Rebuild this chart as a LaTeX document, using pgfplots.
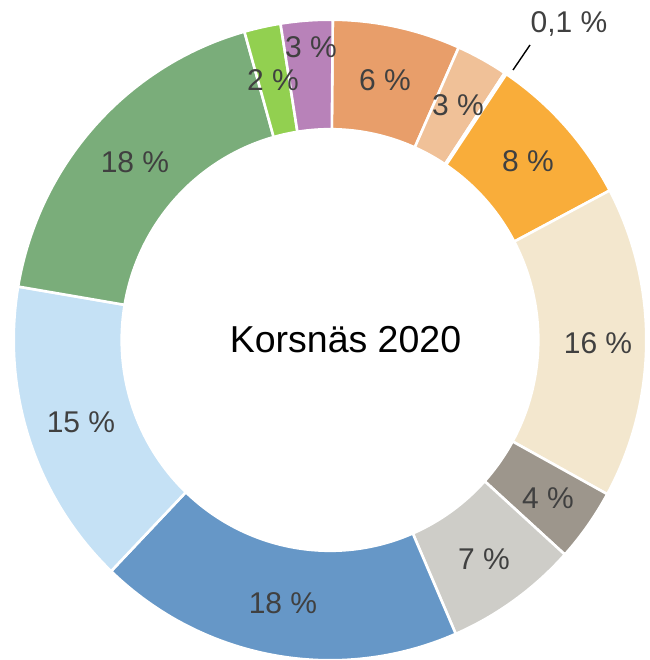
\documentclass[border=0pt]{standalone}
\usepackage{fontspec}
\setmainfont{Liberation Sans}
\usepackage{pgfplots}
\pgfplotsset{compat=1.18}
\usepackage{pgfplotstable}

\definecolor{c0}{RGB}{232,158,106}
\definecolor{c1}{RGB}{240,193,152}
\definecolor{c2}{RGB}{246,200,144}
\definecolor{c3}{RGB}{249,173,58}
\definecolor{c4}{RGB}{243,231,206}
\definecolor{c5}{RGB}{157,150,140}
\definecolor{c6}{RGB}{206,205,200}
\definecolor{c7}{RGB}{102,151,199}
\definecolor{c8}{RGB}{197,225,245}
\definecolor{c9}{RGB}{122,173,122}
\definecolor{c10}{RGB}{146,208,80}
\definecolor{c11}{RGB}{184,130,185}
\definecolor{lblgray}{RGB}{64,64,64}

% shares (percent), clockwise from the top
\pgfplotstableread{
share
6.53
2.64
0.10
7.86
15.72
3.69
6.81
18.67
15.50
17.97
1.86
2.64
}\donut

\def\startangle{0.5}
\pgfplotstablegetrowsof{\donut}
\pgfmathtruncatemacro\lastrow{\pgfplotsretval-1}
\gdef\total{0}
\foreach \i in {0,...,\lastrow}{%
  \pgfplotstablegetelem{\i}{share}\of\donut
  \pgfmathsetmacro\tmpsum{\total+\pgfplotsretval}%
  \global\let\total\tmpsum
}
\pgfmathsetmacro\degper{360/\total}
\gdef\cum{0}
\foreach \i in {0,...,\lastrow}{%
  \pgfplotstablegetelem{\i}{share}\of\donut
  \let\val\pgfplotsretval
  \pgfmathsetmacro\tsa{90-\startangle-\degper*\cum}%
  \pgfmathsetmacro\tea{\tsa-\degper*\val}%
  \expandafter\xdef\csname Ts\i\endcsname{\tsa}%
  \expandafter\xdef\csname Te\i\endcsname{\tea}%
  \pgfmathsetmacro\tmpcum{\cum+\val}%
  \global\let\cum\tmpcum
}

\begin{document}
\begin{tikzpicture}
\begin{axis}[
  scale only axis, width=649pt, height=660pt,
  xmin=0, xmax=649, ymin=0, ymax=660,
  axis line style={draw=none}, ticks=none, clip=false,
]
\pgfplotsinvokeforeach{0,...,11}{%
  \edef\slicecmd{\noexpand\fill[c#1, draw=white, line width=2.6pt]
    ([shift={(\csname Ts#1\endcsname:316.3 and 320.3)}]axis cs:330,320)
    arc[start angle=\csname Ts#1\endcsname, end angle=\csname Te#1\endcsname, x radius=316.3, y radius=320.3]
    -- ([shift={(\csname Te#1\endcsname:208.3 and 210.8)}]axis cs:330,320)
    arc[start angle=\csname Te#1\endcsname, end angle=\csname Ts#1\endcsname, x radius=208.3, y radius=210.8]
    -- cycle;}%
  \slicecmd
}
\begin{scope}[every node/.style={text=lblgray, font=\fontsize{30}{32}\selectfont, inner sep=0pt}]
\node at (axis cs:385,580) {6 \%};
\node at (axis cs:458,555) {3 \%};
\node at (axis cs:528,499) {8 \%};
\node at (axis cs:598,317) {16 \%};
\node at (axis cs:548,162) {4 \%};
\node at (axis cs:484,101) {7 \%};
\node at (axis cs:283,57) {18 \%};
\node at (axis cs:81,238) {15 \%};
\node at (axis cs:135,498) {18 \%};
\node at (axis cs:273,580) {2 \%};
\node at (axis cs:311,613) {3 \%};
\node at (axis cs:569,636) {0,1 \%};
\end{scope}
\draw[black, line width=1.4pt] (axis cs:513,590) -- (axis cs:530,615);
\node[text=black, font=\fontsize{37.5}{40}\selectfont, inner sep=0pt] at (axis cs:345.5,320.5) {Korsnäs 2020};
\end{axis}
\pgfresetboundingbox
\path (current axis.south west) rectangle (current axis.north east);
\end{tikzpicture}
\end{document}
